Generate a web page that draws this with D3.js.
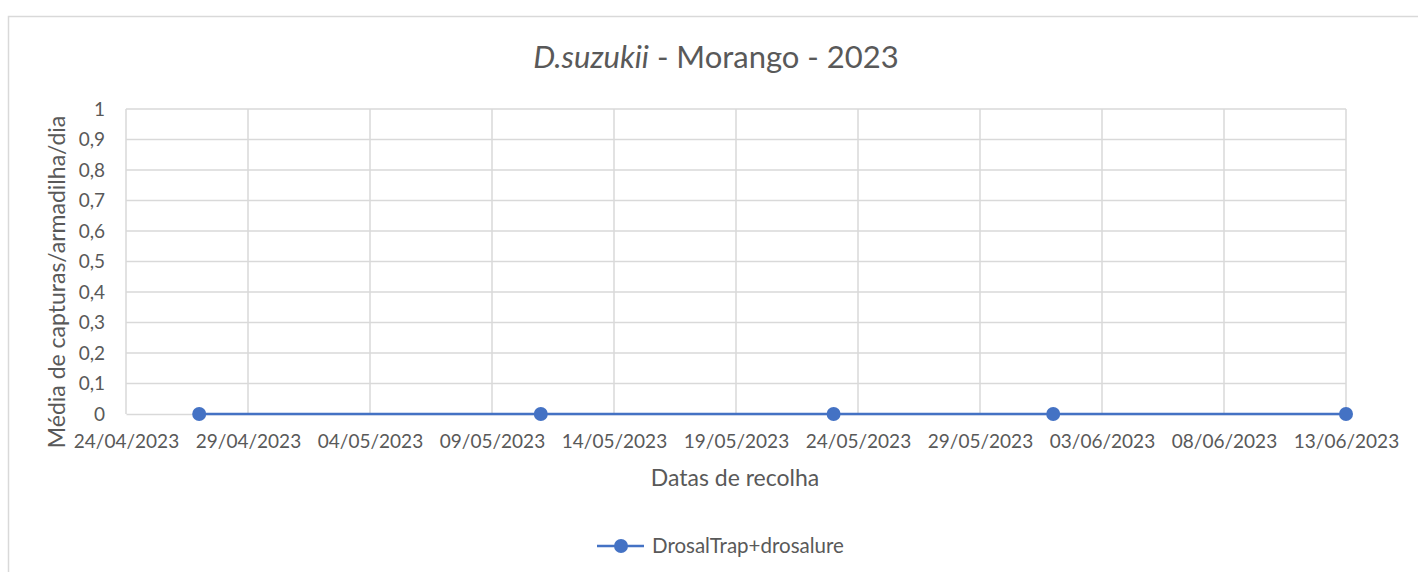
<!DOCTYPE html>
<html lang="pt">
  <head>
    <meta charset="UTF-8" />
    <title>D.suzukii - Morango - 2023</title>
    <style>
      body {
        margin: 0;
        background: #fff;
        font-family: "Lato", "Open Sans", sans-serif;
      }
      svg text {
        fill: #595959;
      }
      .grid line {
        stroke: #d9d9d9;
        stroke-width: 1.5px;
      }
    </style>
  </head>
  <body>
    <svg width="1418" height="572"></svg>

    <script src="https://d3js.org/d3.v7.min.js"></script>
    <script>
      // data
      const dates = ["27/04/2023", "11/05/2023", "23/05/2023", "01/06/2023", "13/06/2023"];
      const values = [0, 0, 0, 0, 0];
      const xTicks = [
        "24/04/2023", "29/04/2023", "04/05/2023", "09/05/2023", "14/05/2023", "19/05/2023",
        "24/05/2023", "29/05/2023", "03/06/2023", "08/06/2023", "13/06/2023",
      ];
      const yTicks = [0, 0.1, 0.2, 0.3, 0.4, 0.5, 0.6, 0.7, 0.8, 0.9, 1];
      const seriesName = "DrosalTrap+drosalure";

      const parse = d3.utcParse("%d/%m/%Y");
      const fmt = d3.utcFormat("%d/%m/%Y");
      const color = "#4472c4";

      const svg = d3.select("svg");
      const plotL = 126, plotR = 1346, plotT = 109, plotB = 414;

      // chart border
      svg.append("rect")
        .attr("x", 8.5).attr("y", 16.5)
        .attr("width", 1430).attr("height", 600)
        .attr("fill", "none").attr("stroke", "#d9d9d9").attr("stroke-width", 1.5);

      const x = d3.scaleUtc()
        .domain([parse(xTicks[0]), parse(xTicks[xTicks.length - 1])])
        .range([plotL, plotR]);
      const y = d3.scaleLinear().domain([0, 1]).range([plotB, plotT]);

      // grid
      const grid = svg.append("g").attr("class", "grid");
      grid.selectAll("line.h").data(yTicks.slice(1)).join("line")
        .attr("class", "h")
        .attr("x1", plotL).attr("x2", plotR)
        .attr("y1", (d) => y(d)).attr("y2", (d) => y(d));
      grid.selectAll("line.v").data(xTicks.map(parse)).join("line")
        .attr("class", "v")
        .attr("x1", (d) => x(d)).attr("x2", (d) => x(d))
        .attr("y1", plotT).attr("y2", plotB);

      // axes
      const xAxis = svg.append("g")
        .attr("transform", `translate(0,${plotB})`)
        .call(d3.axisBottom(x).tickValues(xTicks.map(parse)).tickFormat(fmt).tickSize(0).tickPadding(21));
      xAxis.select(".domain").attr("stroke", "#d9d9d9").attr("stroke-width", 1.5);
      xAxis.selectAll("text").attr("font-size", 19).attr("font-family", "Lato");

      const yAxis = svg.append("g")
        .attr("transform", `translate(${plotL},0)`)
        .call(d3.axisLeft(y).tickValues(yTicks).tickFormat((d) => String(d).replace(".", ",")).tickSize(0).tickPadding(21));
      yAxis.select(".domain").remove();
      yAxis.selectAll("text").attr("font-size", 19).attr("font-family", "Lato");

      // series
      const pts = dates.map((d, i) => ({ date: parse(d), value: values[i] }));
      svg.append("path")
        .datum(pts)
        .attr("fill", "none")
        .attr("stroke", color)
        .attr("stroke-width", 2.5)
        .attr("d", d3.line().x((d) => x(d.date)).y((d) => y(d.value)));
      svg.selectAll("circle.pt").data(pts).join("circle")
        .attr("class", "pt")
        .attr("cx", (d) => x(d.date)).attr("cy", (d) => y(d.value))
        .attr("r", 7).attr("fill", color);

      // title
      const title = svg.append("text")
        .attr("x", 716).attr("y", 68)
        .attr("text-anchor", "middle")
        .attr("font-size", 31);
      title.append("tspan").attr("font-style", "italic").text("D.suzukii");
      title.append("tspan").text(" - Morango - 2023");

      // axis titles
      svg.append("text")
        .attr("x", 735).attr("y", 486)
        .attr("text-anchor", "middle")
        .attr("font-size", 23)
        .text("Datas de recolha");
      svg.append("text")
        .attr("transform", "translate(65,282) rotate(-90)")
        .attr("text-anchor", "middle")
        .attr("font-size", 23)
        .text("Média de capturas/armadilha/dia");

      // legend
      const lg = svg.append("g").attr("transform", "translate(597,546)");
      lg.append("line").attr("x1", 0).attr("x2", 47).attr("stroke", color).attr("stroke-width", 2.5);
      lg.append("circle").attr("cx", 24).attr("r", 7).attr("fill", color);
      lg.append("text").attr("x", 55).attr("y", 7).attr("font-size", 20.5).text(seriesName);
    </script>
  </body>
</html>
